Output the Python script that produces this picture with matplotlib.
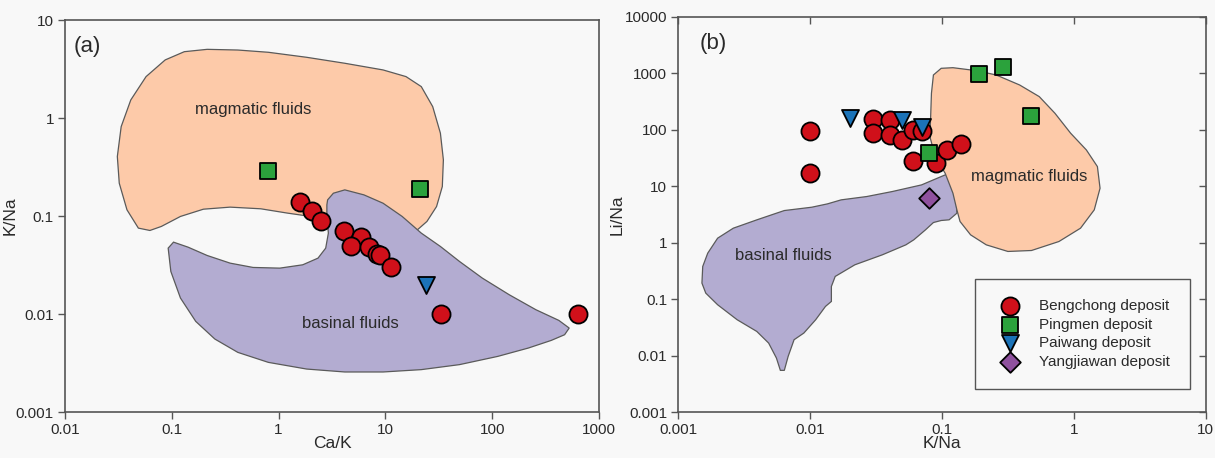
import numpy as np
import matplotlib
matplotlib.use('Agg')
import matplotlib.pyplot as plt
from matplotlib.patches import Polygon

plt.rcParams['font.family'] = ['Liberation Sans', 'DejaVu Sans']

# ----------------------------------------------------------------------------
# data, panel (a): Ca/K vs K/Na
# ----------------------------------------------------------------------------
a_beng_x = [1.6, 2.07, 2.5, 4.06, 5.9, 4.8, 6.95, 8.4, 8.9, 11.4, 33, 630]
a_beng_y = [0.14, 0.112, 0.09, 0.071, 0.061, 0.05, 0.049, 0.041, 0.04, 0.03, 0.01, 0.01]
a_ping_x = [0.79, 21]
a_ping_y = [0.29, 0.19]
a_pai_x = [24]
a_pai_y = [0.02]

# field outlines, log10 units
a_mag_lx = [-1.205, -1.098, -0.919, -0.704, -0.454, -0.167, 0.083, 0.262, 0.441,
            0.799, 1.157, 1.300, 1.389, 1.479, 1.533, 1.543, 1.515, 1.443, 1.336,
            1.193, 0.978, 0.620, 0.262, -0.096, -0.382, -0.669, -0.883, -1.062,
            -1.241, -1.384, -1.474, -1.510, -1.492, -1.420, -1.313]
a_mag_ly = [-1.146, -1.105, -1.003, -0.929, -0.908, -0.925, -0.969, -0.997, -1.020,
            -1.071, -1.122, -1.139, -1.054, -0.902, -0.698, -0.426, -0.154, 0.117,
            0.321, 0.423, 0.491, 0.559, 0.620, 0.671, 0.694, 0.701, 0.677, 0.593,
            0.423, 0.185, -0.087, -0.392, -0.664, -0.935, -1.122]
a_bas_lx = [0.459, 0.513, 0.620, 0.799, 0.978, 1.157, 1.336, 1.515, 1.694, 1.908,
            2.159, 2.409, 2.624, 2.721, 2.678, 2.553, 2.338, 2.052, 1.694, 1.336,
            0.978, 0.620, 0.262, -0.096, -0.382, -0.597, -0.776, -0.919, -1.009,
            -1.034, -0.984, -0.848, -0.669, -0.454, -0.239, 0.011, 0.226, 0.369,
            0.441, 0.466, 0.452, 0.452]
a_bas_ly = [-0.834, -0.766, -0.732, -0.783, -0.868, -1.003, -1.173, -1.309, -1.462,
            -1.632, -1.801, -1.954, -2.063, -2.141, -2.209, -2.267, -2.345, -2.430,
            -2.514, -2.565, -2.589, -2.589, -2.559, -2.491, -2.389, -2.253, -2.073,
            -1.835, -1.564, -1.326, -1.265, -1.316, -1.401, -1.479, -1.523, -1.530,
            -1.496, -1.428, -1.326, -1.173, -1.003, -0.885]

# ----------------------------------------------------------------------------
# data, panel (b): K/Na vs Li/Na
# ----------------------------------------------------------------------------
b_beng_x = [0.01, 0.01, 0.03, 0.04, 0.03, 0.04, 0.05, 0.06, 0.07, 0.06, 0.09, 0.11, 0.14]
b_beng_y = [95, 17, 155, 149, 87, 81, 66, 99, 95, 28, 26, 44, 55]
b_ping_x = [0.19, 0.29, 0.47, 0.08]
b_ping_y = [980, 1280, 175, 39]
b_pai_x = [0.02, 0.05, 0.07]
b_pai_y = [160, 150, 113]
b_yang_x = [0.08]
b_yang_y = [6.2]

b_mag_lx = [-1.006, -1.065, -1.080, -1.086, -1.092, -1.051, -0.976, -0.917, -0.887,
            -0.863, -0.783, -0.664, -0.500, -0.321, -0.113, 0.051, 0.155, 0.199,
            0.179, 0.095, -0.024, -0.143, -0.262, -0.411, -0.589, -0.738, -0.917]
b_mag_ly = [3.087, 2.969, 2.645, 2.232, 1.879, 1.525, 1.230, 0.877, 0.582, 0.376,
            0.140, -0.037, -0.154, -0.137, 0.022, 0.258, 0.582, 0.965, 1.348, 1.643,
            1.938, 2.291, 2.586, 2.792, 2.969, 3.045, 3.098]
b_bas_lx = [-0.902, -0.976, -1.155, -1.378, -1.571, -1.765, -1.869, -1.988, -2.196,
            -2.256, -2.405, -2.583, -2.702, -2.777, -2.815, -2.821, -2.792, -2.702,
            -2.554, -2.405, -2.315, -2.256, -2.226, -2.196, -2.167, -2.122, -2.048,
            -1.958, -1.884, -1.839, -1.839, -1.810, -1.661, -1.452, -1.274, -1.214,
            -1.125, -1.065, -1.006, -0.946, -0.887]
b_bas_ly = [1.230, 1.201, 1.024, 0.906, 0.818, 0.759, 0.688, 0.629, 0.570, 0.523,
            0.405, 0.258, 0.081, -0.184, -0.420, -0.714, -0.891, -1.097, -1.362,
            -1.569, -1.775, -2.040, -2.258, -2.258, -2.011, -1.716, -1.598, -1.362,
            -1.127, -1.038, -0.773, -0.596, -0.390, -0.213, -0.037, 0.052, 0.229,
            0.358, 0.394, 0.406, 0.523]

a_xticks = [0.01, 0.1, 1, 10, 100, 1000]
a_yticks = [0.001, 0.01, 0.1, 1, 10]
b_xticks = [0.001, 0.01, 0.1, 1, 10]
b_yticks = [0.001, 0.01, 0.1, 1, 10, 100, 1000, 10000]

# ----------------------------------------------------------------------------
# styles
# ----------------------------------------------------------------------------
bg = '#f8f8f8'
mag_col = '#fdcaa9'
bas_col = '#b3acd1'
edge_col = '#5a5a5a'
red = '#d0101a'
green = '#2ba23c'
blue = '#1b73b8'
purple = '#8f519e'
txt = '#2a2a2a'

fig = plt.figure(figsize=(12.15, 4.58), dpi=100, facecolor=bg)
axa = fig.add_axes([0.0535, 0.0998, 0.4395, 0.8565])
axb = fig.add_axes([0.5583, 0.0998, 0.434, 0.8637])


def field(ax, lx, ly, col):
    pts = np.column_stack([10 ** np.array(lx), 10 ** np.array(ly)])
    ax.add_patch(Polygon(pts, closed=True, facecolor=col, edgecolor=edge_col,
                         linewidth=0.9, zorder=1))


def style(ax, xt, yt):
    ax.set_facecolor(bg)
    ax.set_xscale('log')
    ax.set_yscale('log')
    ax.set_xlim(xt[0], xt[-1])
    ax.set_ylim(yt[0], yt[-1])
    ax.set_xticks(xt)
    ax.set_yticks(yt)
    ax.set_xticklabels(['%g' % v for v in xt])
    ax.set_yticklabels(['%g' % v for v in yt])
    ax.minorticks_off()
    for s in ax.spines.values():
        s.set_color('#555555')
        s.set_linewidth(1.2)
    ax.tick_params(direction='out', length=5, width=1, color='#555555',
                   labelsize=11, labelcolor=txt)
    ax.tick_params(axis='x', pad=3)
    ax.tick_params(axis='y', pad=3)


mk = dict(edgecolors='black', linewidths=1.3, zorder=3)

# panel (a)
field(axa, a_mag_lx, a_mag_ly, mag_col)
field(axa, a_bas_lx, a_bas_ly, bas_col)
axa.scatter(a_ping_x, a_ping_y, marker='s', s=125, c=green, **mk)
axa.scatter(a_pai_x, a_pai_y, marker='v', s=150, c=blue, **mk)
axa.scatter(a_beng_x, a_beng_y, marker='o', s=170, c=red, **mk)
style(axa, a_xticks, a_yticks)
axa.set_xlabel('Ca/K', fontsize=12.5, color=txt, labelpad=-1)
axa.set_ylabel('K/Na', fontsize=12.5, color=txt, labelpad=-1)
axa.text(0.58, 1.21, 'magmatic fluids', fontsize=12, color=txt, ha='center', va='center')
axa.text(4.7, 0.0081, 'basinal fluids', fontsize=12, color=txt, ha='center', va='center')
axa.text(0.016, 0.96, '(a)', transform=axa.transAxes, fontsize=16, color=txt,
         ha='left', va='top')

# panel (b)
field(axb, b_bas_lx, b_bas_ly, bas_col)
field(axb, b_mag_lx, b_mag_ly, mag_col)
h1 = axb.scatter(b_beng_x, b_beng_y, marker='o', s=170, c=red, **mk)
h2 = axb.scatter(b_ping_x, b_ping_y, marker='s', s=125, c=green, **mk)
h3 = axb.scatter(b_pai_x, b_pai_y, marker='v', s=150, c=blue, **mk)
h4 = axb.scatter(b_yang_x, b_yang_y, marker='D', s=110, c=purple, **mk)
style(axb, b_xticks, b_yticks)
axb.tick_params(top=True, right=True)
for t in axb.xaxis.get_major_ticks():
    t.tick2line.set_marker(3)
for t in axb.yaxis.get_major_ticks():
    t.tick2line.set_marker(0)
axb.set_xlabel('K/Na', fontsize=12.5, color=txt, labelpad=-1)
axb.set_ylabel('Li/Na', fontsize=12.5, color=txt, labelpad=0)
axb.text(0.46, 15, 'magmatic fluids', fontsize=12, color=txt, ha='center', va='center')
axb.text(0.0063, 0.6, 'basinal fluids', fontsize=12, color=txt, ha='center', va='center')
axb.text(0.04, 0.96, '(b)', transform=axb.transAxes, fontsize=16, color=txt,
         ha='left', va='top')

leg = axb.legend([h1, h2, h3, h4],
                 ['Bengchong deposit', 'Pingmen deposit', 'Paiwang deposit',
                  'Yangjiawan deposit'],
                 loc='center', bbox_to_anchor=(0.575, 0.05, 0.382, 0.295),
                 fontsize=11, frameon=True, fancybox=False, framealpha=1,
                 edgecolor='#555555', facecolor=bg, labelspacing=0.3,
                 handletextpad=0.9, borderpad=1.3, handlelength=2.0)
leg.get_frame().set_linewidth(1.0)
for t in leg.get_texts():
    t.set_color(txt)

fig.savefig('out.png', dpi=100, facecolor=bg)
